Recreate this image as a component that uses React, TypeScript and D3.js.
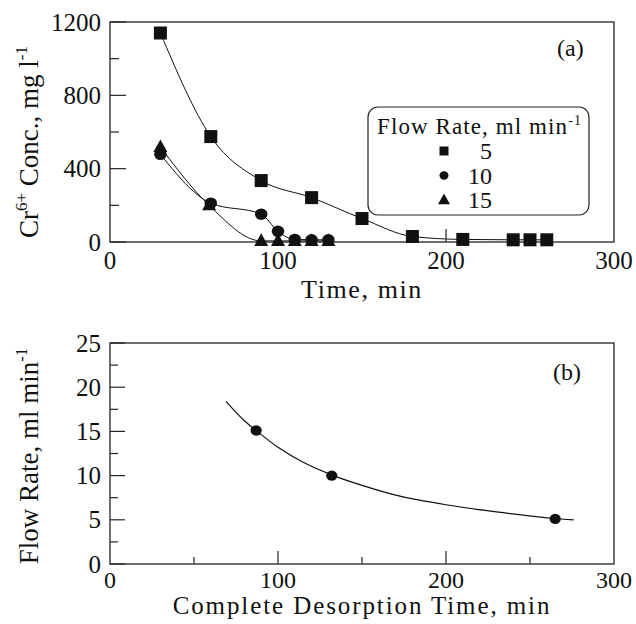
import React from "react";
import * as d3 from "d3";

// ---------- Data ----------
// Panel (a): Cr6+ concentration vs time for three flow rates
const flow5Time = [30, 60, 90, 120, 150, 180, 210, 240, 250, 260];
const flow5Conc = [1140, 575, 335, 242, 128, 30, 14, 12, 12, 12];
const flow10Time = [30, 60, 90, 100, 110, 120, 130];
const flow10Conc = [478, 212, 152, 58, 14, 12, 12];
const flow15Time = [30, 59, 90, 100, 110, 120, 130];
const flow15Conc = [518, 200, 6, 6, 6, 6, 6];

// Panel (b): flow rate vs complete desorption time
const desorpTime = [87, 132, 265];
const desorpFlow = [15.1, 10.0, 5.1];
// fitted curve as traced on the figure
const curveTime = [69, 80, 87, 100, 115, 133, 150, 172, 200, 230, 265, 276];
const curveFlow = [18.4, 16.2, 15.1, 13.2, 11.5, 10.0, 8.9, 7.7, 6.7, 5.9, 5.15, 5.0];

// Ticks
const aXMajor = [0, 100, 200, 300];
const aXInner = [100, 200];
const aYMajor = [0, 400, 800, 1200];
const aYMinor = [200, 600, 1000];
const bXMajor = [0, 100, 200, 300];
const bXInner = [100, 200];
const bXMinor = [50, 150, 250];
const bYMajor = [0, 5, 10, 15, 20, 25];
const bYMinor = [2.5, 7.5, 12.5, 17.5, 22.5];

const legendLabels = ["5", "10", "15"];
const legendShapes = ["square", "circle", "triangle"];

// ---------- Layout ----------
const W = 636;
const H = 624;
const FONT = "'Liberation Serif', 'Times New Roman', serif";
const INK = "#111";

const xA = d3.scaleLinear().domain([0, 300]).range([110, 614]);
const yA = d3.scaleLinear().domain([0, 1200]).range([242, 22]);
const xB = d3.scaleLinear().domain([0, 300]).range([110, 614]);
const yB = d3.scaleLinear().domain([0, 25]).range([564, 343]);

function Marker({ shape, x, y, s }: { shape: string; x: number; y: number; s: number }) {
  if (shape === "square") {
    return <rect x={x - s / 2} y={y - s / 2} width={s} height={s} fill={INK} />;
  }
  if (shape === "circle") {
    return <ellipse cx={x} cy={y} rx={s * 0.5} ry={s * 0.46} fill={INK} />;
  }
  const h = s * 0.9;
  return (
    <path
      d={`M${x},${y - h * 0.6} L${x + s / 2},${y + h * 0.4} L${x - s / 2},${y + h * 0.4} Z`}
      fill={INK}
    />
  );
}

function series(xs: number[], ys: number[]) {
  return xs.map((x, i) => [x, ys[i]] as [number, number]);
}

export default function App() {
  const lineA = d3
    .line<[number, number]>()
    .x((d) => xA(d[0]))
    .y((d) => yA(d[1]))
    .curve(d3.curveMonotoneX);
  const lineB = d3
    .line<[number, number]>()
    .x((d) => xB(d[0]))
    .y((d) => yB(d[1]))
    .curve(d3.curveCatmullRom.alpha(0.5));

  const sA = [
    { shape: "square", pts: series(flow5Time, flow5Conc) },
    { shape: "circle", pts: series(flow10Time, flow10Conc) },
    { shape: "triangle", pts: series(flow15Time, flow15Conc) },
  ];

  const tickLabel = { fontFamily: FONT, fontSize: 25, fill: INK } as const;

  return (
    <svg
      width={W}
      height={H}
      viewBox={`0 0 ${W} ${H}`}
      style={{ position: "absolute", left: 0, top: 0, background: "#fff", display: "block" }}
    >
      <rect x={0} y={0} width={W} height={H} fill="#fff" />

      {/* ================= Panel (a) ================= */}
      <g>
        {sA.map((s, i) => (
          <path key={i} d={lineA(s.pts) || ""} fill="none" stroke={INK} strokeWidth={1} />
        ))}
        <rect x={110} y={22} width={504} height={220} fill="none" stroke="#222" strokeWidth={1.3} />
        {aYMajor.map((v) => (
          <line key={"aym" + v} x1={110} x2={126} y1={yA(v)} y2={yA(v)} stroke="#222" strokeWidth={1.2} />
        ))}
        {aYMinor.map((v) => (
          <line key={"ayn" + v} x1={110} x2={119} y1={yA(v)} y2={yA(v)} stroke="#222" strokeWidth={1.2} />
        ))}
        {aXInner.map((v) => (
          <line key={"axm" + v} x1={xA(v)} x2={xA(v)} y1={242} y2={229} stroke="#222" strokeWidth={1.2} />
        ))}
        {sA.map((s, i) =>
          s.pts.map((p, j) => (
            <Marker
              key={i + "-" + j}
              shape={s.shape}
              x={xA(p[0])}
              y={yA(p[1])}
              s={s.shape === "square" ? 13 : s.shape === "circle" ? 12.5 : 14}
            />
          ))
        )}
        {aYMajor.map((v) => (
          <text key={"ayl" + v} x={101} y={yA(v)} dy="0.34em" textAnchor="end" {...tickLabel}>
            {v}
          </text>
        ))}
        {aXMajor.map((v) => (
          <text key={"axl" + v} x={xA(v)} y={269} textAnchor="middle" {...tickLabel}>
            {v}
          </text>
        ))}
        <text
          x={362}
          y={298}
          textAnchor="middle"
          fontFamily={FONT}
          fontSize={26}
          letterSpacing={1.6}
          fill={INK}
        >
          Time, min
        </text>
        <text
          transform="translate(38,142) rotate(-90)"
          textAnchor="middle"
          fontFamily={FONT}
          fontSize={27}
          fill={INK}
        >
          Cr
          <tspan fontSize={17} dy={-11}>6+</tspan>
          <tspan dy={11}> Conc., mg l</tspan>
          <tspan fontSize={17} dy={-11}>-1</tspan>
        </text>
        <text x={557} y={56} fontFamily={FONT} fontSize={24} fill={INK}>
          (a)
        </text>
        <rect x={368} y={107} width={221} height={108} rx={10} fill="#fff" stroke="#222" strokeWidth={1.2} />
        <text x={377} y={134} fontFamily={FONT} fontSize={23} letterSpacing={1.1} fill={INK}>
          Flow Rate, ml min
          <tspan fontSize={14} dy={-9}>-1</tspan>
        </text>
        {legendLabels.map((lab, i) => {
          const cy = 151 + i * 24.5;
          return (
            <g key={"leg" + i}>
              <Marker shape={legendShapes[i]} x={444} y={cy} s={legendShapes[i] === "triangle" ? 12 : 9} />
              <text x={492} y={cy + 8} textAnchor="end" fontFamily={FONT} fontSize={24} fill={INK}>
                {lab}
              </text>
            </g>
          );
        })}
      </g>

      {/* ================= Panel (b) ================= */}
      <g>
        <path d={lineB(series(curveTime, curveFlow)) || ""} fill="none" stroke={INK} strokeWidth={1.2} />
        <rect x={110} y={343} width={504} height={221} fill="none" stroke="#222" strokeWidth={1.3} />
        {bYMajor.map((v) => (
          <line key={"bym" + v} x1={110} x2={125} y1={yB(v)} y2={yB(v)} stroke="#222" strokeWidth={1.2} />
        ))}
        {bYMinor.map((v) => (
          <line key={"byn" + v} x1={110} x2={118} y1={yB(v)} y2={yB(v)} stroke="#222" strokeWidth={1.2} />
        ))}
        {bXInner.map((v) => (
          <line key={"bxm" + v} x1={xB(v)} x2={xB(v)} y1={564} y2={551} stroke="#222" strokeWidth={1.2} />
        ))}
        {bXMinor.map((v) => (
          <line key={"bxn" + v} x1={xB(v)} x2={xB(v)} y1={564} y2={557} stroke="#222" strokeWidth={1.2} />
        ))}
        {desorpTime.map((t, i) => (
          <ellipse key={"bd" + i} cx={xB(t)} cy={yB(desorpFlow[i])} rx={5.6} ry={5.2} fill={INK} />
        ))}
        {bYMajor.map((v) => (
          <text key={"byl" + v} x={101} y={yB(v)} dy="0.34em" textAnchor="end" {...tickLabel}>
            {v}
          </text>
        ))}
        {bXMajor.map((v) => (
          <text key={"bxl" + v} x={xB(v)} y={588} textAnchor="middle" fontFamily={FONT} fontSize={24} fill={INK}>
            {v}
          </text>
        ))}
        <text
          x={362}
          y={614}
          textAnchor="middle"
          fontFamily={FONT}
          fontSize={25}
          letterSpacing={1.9}
          fill={INK}
        >
          Complete Desorption Time, min
        </text>
        <text
          transform="translate(38,456) rotate(-90)"
          textAnchor="middle"
          fontFamily={FONT}
          fontSize={27}
          fill={INK}
        >
          Flow Rate, ml min
          <tspan fontSize={17} dy={-11}>-1</tspan>
        </text>
        <text x={553} y={380} fontFamily={FONT} fontSize={24} fill={INK}>
          (b)
        </text>
      </g>
    </svg>
  );
}
